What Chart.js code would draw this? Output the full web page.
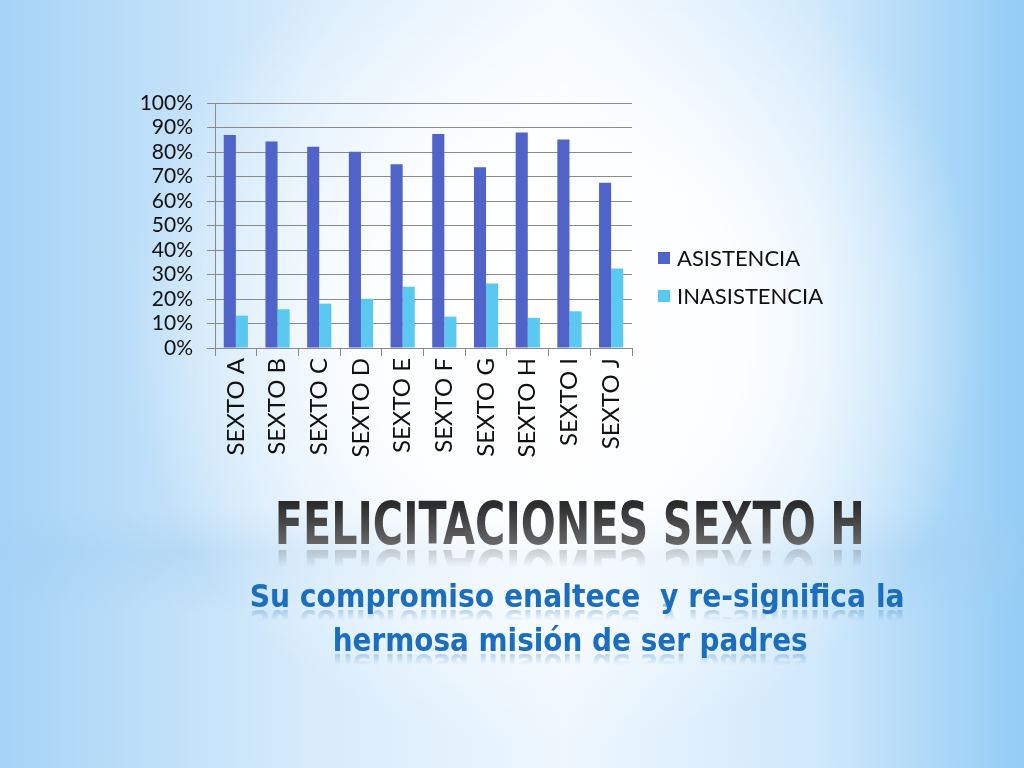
<!DOCTYPE html>
<html>
<head>
<meta charset="utf-8">
<script src="https://cdn.jsdelivr.net/npm/chart.js@4"></script>
<style>
  html, body { margin:0; padding:0; width:1024px; height:768px; overflow:hidden; }
  body {
    position:relative;
    background:
      radial-gradient(ellipse 430px 420px at 555px 330px, rgba(255,255,255,1) 0%, rgba(255,255,255,0.9) 45%, rgba(255,255,255,0) 100%),
      linear-gradient(to bottom, rgba(255,255,255,0) 66%, rgba(160,205,240,0.35) 72%, rgba(255,255,255,0) 80%),
      linear-gradient(to right, #a6d3f6 0%, #d6ebfb 30%, #eef7fe 55%, #cfe8fb 80%, #93ccf5 100%);
  }
  #chart { position:absolute; left:0; top:0; width:1024px; height:768px; }
  .line { position:absolute; left:0; width:1024px; text-align:center; white-space:nowrap; }
  .line span { display:inline-block; transform-origin:center top; }
  .title span {
    font-family:"DejaVu Sans Condensed", "DejaVu Sans", sans-serif;
    font-weight:bold; font-size:58px; line-height:58px;
    background:linear-gradient(to bottom, #2b2b2b 15%, #6c6c6c 90%);
    -webkit-background-clip:text; background-clip:text; color:transparent;
    -webkit-box-reflect: below -12px linear-gradient(transparent 55%, rgba(255,255,255,0.45));
  }
  .sub span {
    font-family:"DejaVu Sans Condensed", "DejaVu Sans", sans-serif; font-weight:bold;
    font-size:32px; line-height:34px; color:#1b6dbd;
    -webkit-box-reflect: below -9px linear-gradient(transparent 50%, rgba(255,255,255,0.4));
  }
</style>
</head>
<body>
<canvas id="chart" width="1024" height="768"></canvas>
<div class="line title" style="top:495px" data-w="590" data-cx="570"><span>FELICITACIONES SEXTO H</span></div>
<div class="line sub" style="top:579px" data-w="655" data-cx="577"><span>Su compromiso enaltece &nbsp;y re-significa la</span></div>
<div class="line sub" style="top:623px" data-w="475" data-cx="570"><span>hermosa misión de ser padres</span></div>
<script>
const categorias = ["SEXTO A","SEXTO B","SEXTO C","SEXTO D","SEXTO E","SEXTO F","SEXTO G","SEXTO H","SEXTO I","SEXTO J"];
const asistencia = [0.869, 0.843, 0.821, 0.801, 0.750, 0.873, 0.738, 0.880, 0.851, 0.674];
const inasistencia = [0.132, 0.158, 0.181, 0.201, 0.250, 0.128, 0.263, 0.123, 0.150, 0.325];
const ticksY = [0, 0.1, 0.2, 0.3, 0.4, 0.5, 0.6, 0.7, 0.8, 0.9, 1];

const font = "Lato, 'DejaVu Sans', sans-serif";
const gris = "#8a8a8a";

// ajustar ancho de los textos al del original
document.querySelectorAll(".line").forEach(el => {
  const sp = el.querySelector("span");
  const w = sp.getBoundingClientRect().width;
  const k = Number(el.dataset.w) / w;
  const cx = Number(el.dataset.cx);
  sp.style.transform = `scaleX(${k})`;
  el.style.left = (cx - 512) + "px";
});

// leyenda dibujada a mano para ubicarla como en el original
const leyenda = {
  id: "leyenda",
  afterDraw(chart){
    const c = chart.ctx;
    c.save();
    c.font = "22px " + font;
    c.textBaseline = "middle";
    chart.data.datasets.forEach((ds, i) => {
      const y = 258 + i * 38;
      c.fillStyle = ds.backgroundColor;
      c.fillRect(658, y - 6, 12, 12);
      c.fillStyle = "#111";
      c.fillText(ds.label, 677, y + 1);
    });
    c.restore();
  }
};

new Chart(document.getElementById("chart"), {
  type: "bar",
  data: {
    labels: categorias,
    datasets: [
      { label: "ASISTENCIA", data: asistencia, backgroundColor: "#4f63c8" },
      { label: "INASISTENCIA", data: inasistencia, backgroundColor: "#5bc8ef" }
    ]
  },
  options: {
    responsive: false,
    animation: false,
    categoryPercentage: 0.58,
    barPercentage: 1.0,
    layout: { padding: { left: 115, right: 392, top: 103, bottom: 300 } },
    plugins: { legend: { display: false }, tooltip: { enabled: false } },
    scales: {
      x: {
        afterFit: (s) => { s.height = 120; },
        grid: { display: true, offset: true, drawOnChartArea: false, color: gris, tickLength: 8 },
        border: { color: gris },
        ticks: { minRotation: 90, maxRotation: 90, autoSkip: false, color: "#111", font: { family: font, size: 24 }, padding: 2 }
      },
      y: {
        min: 0, max: 1,
        afterFit: (s) => { s.width = 100; },
        afterBuildTicks: (s) => { s.ticks = ticksY.map(v => ({ value: v })); },
        grid: { color: gris, tickLength: 8 },
        border: { color: gris },
        ticks: {
          autoSkip: false,
          color: "#111", font: { family: font, size: 21 }, padding: 14,
          callback: (v) => Math.round(v * 100) + "%"
        }
      }
    }
  },
  plugins: [leyenda]
});
</script>
</body>
</html>
